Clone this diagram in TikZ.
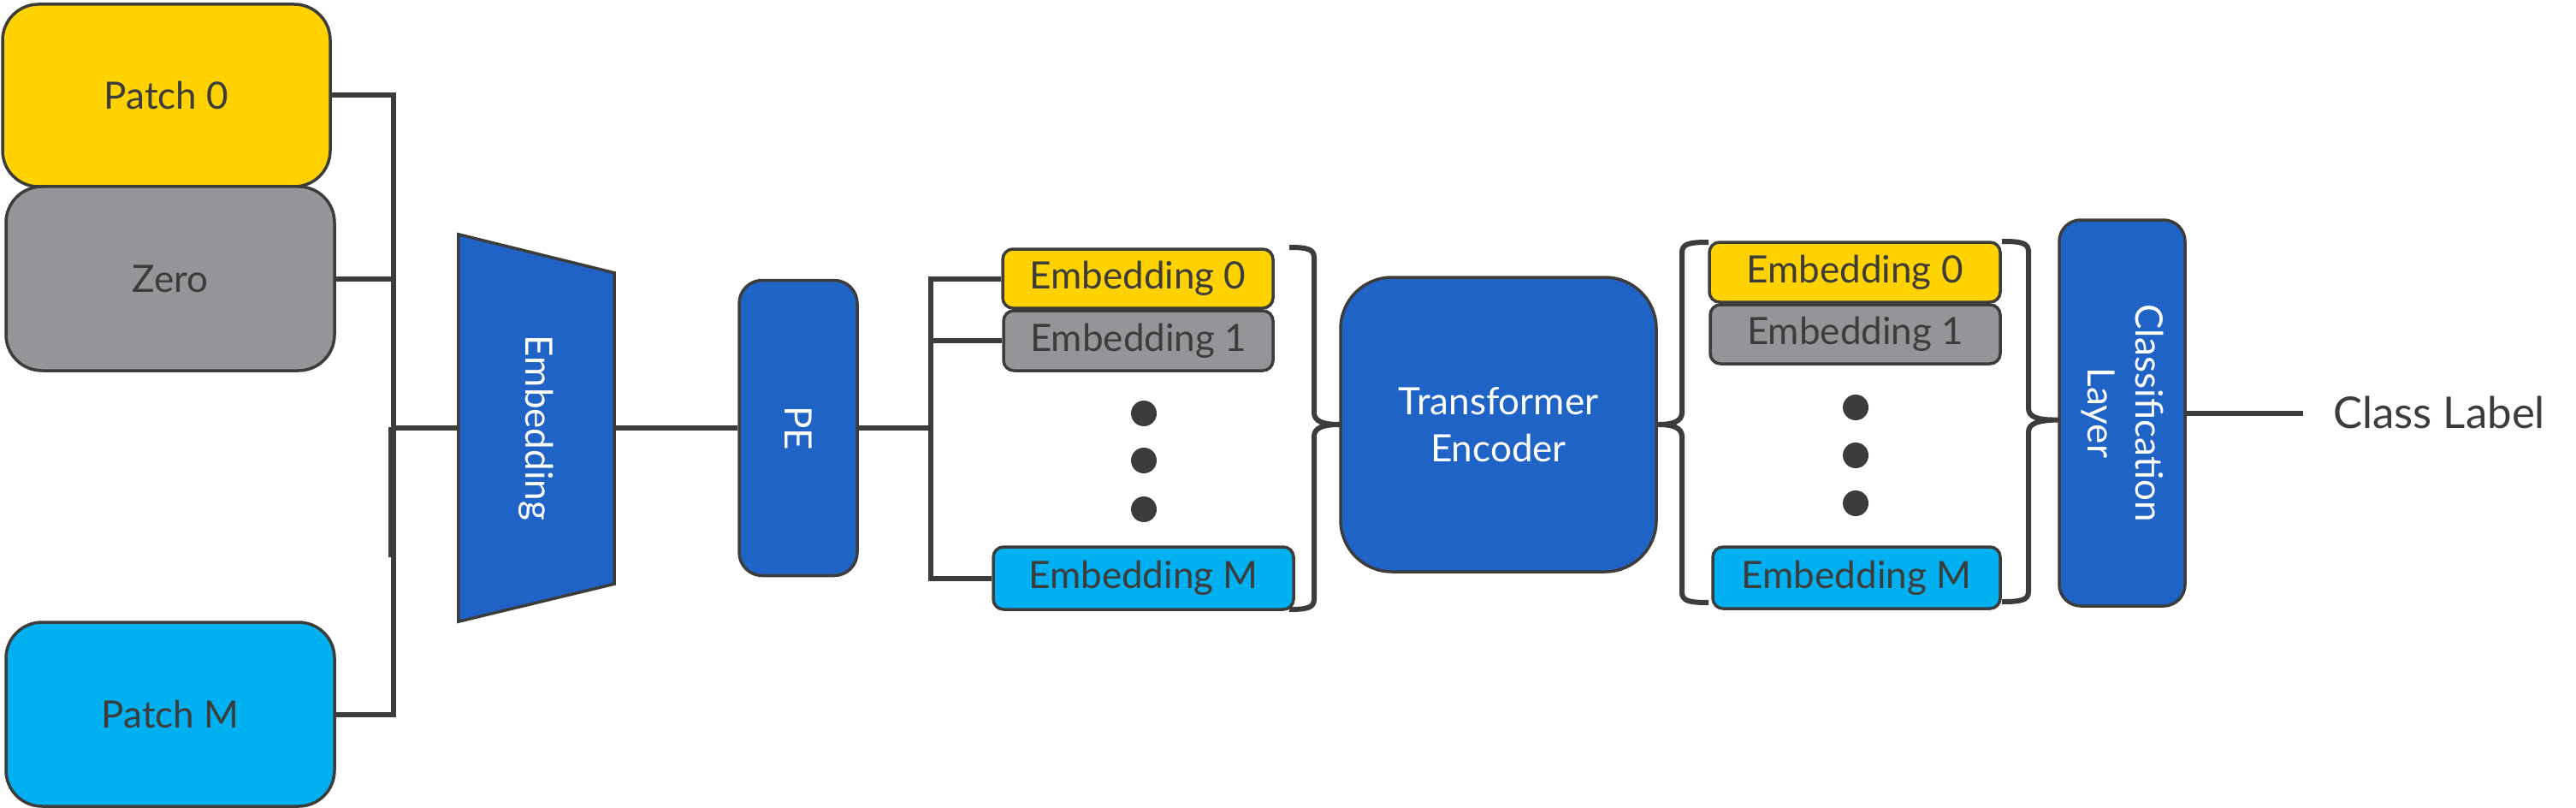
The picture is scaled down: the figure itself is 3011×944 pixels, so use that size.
\documentclass[tikz,border=0pt]{standalone}
\usepackage{fontspec}
\setmainfont{Lato}
\usetikzlibrary{calc}
\definecolor{ylw}{HTML}{FFD200}
\definecolor{gry}{HTML}{939598}
\definecolor{cyn}{HTML}{00B0F0}
\definecolor{dblue}{HTML}{1F63C6}
\definecolor{ink}{HTML}{3C3C3B}
\begin{document}
\begin{tikzpicture}[x=1pt,y=-1pt,
  lbl/.style={font=\fontsize{44}{53}\selectfont},
  box/.style={draw=ink, line width=3.5pt, rounded corners=#1, inner sep=0pt, text=ink, lbl},
  box/.default=12,
  conn/.style={draw=ink, line width=6pt},
  brace/.style={draw=ink, line width=6pt, line join=round},
  dot/.style={circle, fill=ink, minimum size=30pt, inner sep=0pt},
  wtext/.style={text=white, lbl, rotate=-90, align=center, inner sep=0pt}]
\useasboundingbox (0,0) rectangle (3011,944);

% input patches
\node[box=42, fill=ylw, minimum width=383, minimum height=213] (p0) at (194.5,111.5) {Patch 0};
\node[box=42, fill=gry, minimum width=384, minimum height=215] (zero) at (199,325.5) {Zero};
\node[box=42, fill=cyn, minimum width=384, minimum height=215] (pm) at (199,834.5) {Patch M};

% embedding trapezoid
\node[minimum width=182, minimum height=452, inner sep=0pt] (emb) at (627,500) {};
\draw[draw=ink, line width=3.5pt, fill=dblue] (emb.north west) -- ($(emb.north east)+(0,45)$) -- ($(emb.south east)+(0,-44)$) -- (emb.south west) -- cycle;
\node[wtext] (embt) at (emb.center) {Embedding};

% left bus
\coordinate (busx) at (460,0);
\draw[conn] (p0.east) -| (busx |- pm.east) -- (pm.east);
\draw[conn] (zero.east) -- (zero.east -| busx);
\draw[conn] (busx |- emb.west) -- (emb.west);
\draw[conn] (457,499) -- (457,651);

% PE
\node[box=27, fill=dblue, minimum width=138, minimum height=345] (pe) at (933,500) {};
\node[wtext] (pet) at (pe.center) {PE};
\draw[conn] (emb.east) -- (pe.west);

% first embedding column
\node[box=12, fill=ylw, minimum width=316, minimum height=69] (e0) at (1330,325.5) {Embedding 0};
\node[box=12, fill=gry, minimum width=315, minimum height=70] (e1) at (1330.5,398) {Embedding 1};
\node[box=12, fill=cyn, minimum width=351, minimum height=73] (eM) at (1336.5,675.5) {Embedding M};
\node[dot] (d1) at (1337,483) {};
\node[dot] (d2) at (1337,538) {};
\node[dot] (d3) at (1337,595) {};

\coordinate (bus2) at (1088,0);
\draw[conn] (pe.east) -- (pe.east -| bus2);
\draw[conn] (e0.west) -| (bus2 |- eM.west) -- (eM.west);
\draw[conn] (e1.west) -- (e1.west -| bus2);

% transformer
\node[box=60, fill=dblue, text=white, align=center, font=\fontsize{44}{55}\selectfont, minimum width=369, minimum height=344] (te) at (1751.5,496) {Transformer\\Encoder};

\draw[brace] (1507,289) .. controls (1528,289) and (1536,291) .. (1536,301) -- (1536,482)
  .. controls (1536,492) and (1546,496) .. (te.west)
  .. controls (1546,496) and (1536,500) .. (1536,510) -- (1536,700)
  .. controls (1536,710) and (1528,712) .. (1507,712);

\draw[brace] (1997,283) .. controls (1974,283) and (1966,285) .. (1966,295) -- (1966,482)
  .. controls (1966,492) and (1956,496) .. (te.east)
  .. controls (1956,496) and (1966,500) .. (1966,510) -- (1966,692)
  .. controls (1966,702) and (1974,704) .. (1997,704);

% second embedding column
\node[box=12, fill=ylw, minimum width=340, minimum height=70] (f0) at (2168,318) {Embedding 0};
\node[box=12, fill=gry, minimum width=339, minimum height=69] (f1) at (2168.5,390.5) {Embedding 1};
\node[box=12, fill=cyn, minimum width=336, minimum height=72] (fM) at (2170,675) {Embedding M};
\node[dot] (g1) at (2169,476) {};
\node[dot] (g2) at (2169,532) {};
\node[dot] (g3) at (2169,588) {};

% classification
\node[box=25, fill=dblue, minimum width=147, minimum height=451] (cls) at (2480.5,482.5) {};
\node[wtext, font=\fontsize{44}{56}\selectfont] (clst) at (cls.center) {Classification\\Layer};
\coordinate (c3) at ($(cls.west)+(0,8)$);
\draw[brace] (2340,282) .. controls (2363,282) and (2371,284) .. (2371,294) -- (2371,477)
  .. controls (2371,487) and (2381,491) .. (c3)
  .. controls (2381,491) and (2371,495) .. (2371,505) -- (2371,691)
  .. controls (2371,701) and (2363,703) .. (2340,703);

% output
\node[anchor=west, text=ink, font=\fontsize{51}{60}\selectfont, inner sep=0pt] (cl) at (2727,482) {Class Label};
\coordinate (clend) at (2692,482.5);
\draw[conn] (cls.east) -- (clend);
\end{tikzpicture}
\end{document}
